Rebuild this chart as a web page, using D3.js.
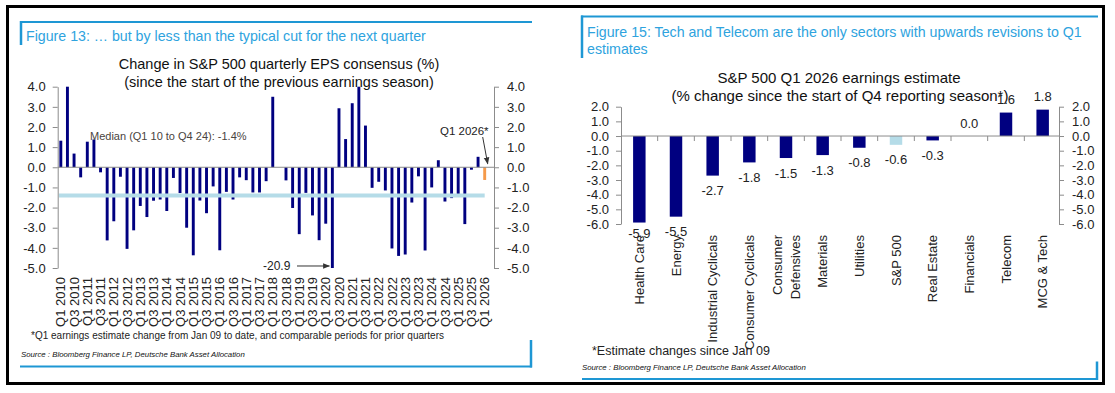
<!DOCTYPE html>
<html>
<head>
<meta charset="utf-8">
<script src="https://cdn.jsdelivr.net/npm/d3@7"></script>
<style>
  body { margin: 0; background: #fff; }
  svg { display: block; font-family: "Liberation Sans", Arial, sans-serif; }
</style>
</head>
<body>
<svg id="chart" width="1115" height="393"></svg>
<script>
/* ---------- data : Figure 13 ---------- */
const quarters = [
  "Q1 2010","Q2 2010","Q3 2010","Q4 2010","Q1 2011","Q2 2011","Q3 2011","Q4 2011",
  "Q1 2012","Q2 2012","Q3 2012","Q4 2012","Q1 2013","Q2 2013","Q3 2013","Q4 2013",
  "Q1 2014","Q2 2014","Q3 2014","Q4 2014","Q1 2015","Q2 2015","Q3 2015","Q4 2015",
  "Q1 2016","Q2 2016","Q3 2016","Q4 2016","Q1 2017","Q2 2017","Q3 2017","Q4 2017",
  "Q1 2018","Q2 2018","Q3 2018","Q4 2018","Q1 2019","Q2 2019","Q3 2019","Q4 2019",
  "Q1 2020","Q2 2020","Q3 2020","Q4 2020","Q1 2021","Q2 2021","Q3 2021","Q4 2021",
  "Q1 2022","Q2 2022","Q3 2022","Q4 2022","Q1 2023","Q2 2023","Q3 2023","Q4 2023",
  "Q1 2024","Q2 2024","Q3 2024","Q4 2024","Q1 2025","Q2 2025","Q3 2025","Q4 2025",
  "Q1 2026"
];
const epsChange = [
  1.32, 4.0, 0.68, -0.5, 1.27, 1.38, -0.25, -3.63, -2.68, -0.47,
  -4.05, -3.13, -1.92, -2.47, -1.66, -1.6, -2.17, -0.53, -1.28, -3.0,
  -4.37, -1.65, -2.28, -0.95, -4.12, -1.22, -1.6, -0.5, -0.64, -1.25,
  -1.25, -0.69, 3.5, 0.0, -0.65, -2.02, -3.32, -1.27, -2.39, -3.62,
  -2.8, -20.9, 2.93, 1.4, 3.18, 4.0, 2.07, -1.02, -0.72, -1.15,
  -4.03, -4.4, -4.33, -1.75, -0.45, -4.13, -1.0, 0.35, -1.7, -1.53,
  -1.33, -2.82, -0.12, 0.52, -0.63
];
const epsTicks = [4, 3, 2, 1, 0, -1, -2, -3, -4, -5];
const medianValue = -1.4;
const outlierIndex = 41;   // Q2 2020, -20.9 (clipped)

/* ---------- data : Figure 15 ---------- */
const sectors = [
  "Health Care", "Energy", "Industrial Cyclicals", "Consumer Cyclicals",
  "Consumer\nDefensives", "Materials", "Utilities", "S&P 500", "Real Estate",
  "Financials", "Telecom", "MCG & Tech"
];
const sectorChange = [-5.9, -5.5, -2.7, -1.8, -1.5, -1.3, -0.8, -0.6, -0.3, 0.0, 1.6, 1.8];
const sectorTicks = [2, 1, 0, -1, -2, -3, -4, -5, -6];

/* ---------- styles ---------- */
const NAVY = "#000080";
const ORANGE = "#f59a4a";
const LIGHT = "#b5dce8";
const BLUE = "#1e97d4";
const GREY = "#8c8c8c";
const INK = "#222";
const fmt = d => d.toFixed(1);

const svg = d3.select("#chart");
svg.append("rect").attr("width", 1115).attr("height", 393).attr("fill", "#fff");

svg.append("defs").append("marker")
  .attr("id", "arrow").attr("viewBox", "0 0 10 10")
  .attr("refX", 9).attr("refY", 5)
  .attr("markerWidth", 7).attr("markerHeight", 7)
  .attr("orient", "auto-start-reverse")
  .append("path").attr("d", "M0,1L10,5L0,9z").attr("fill", "#333");

function styleAxis(g, size) {
  g.attr("font-family", null).attr("font-size", size);
  g.select(".domain").attr("stroke", GREY);
  g.selectAll(".tick line").attr("stroke", GREY);
  g.selectAll(".tick text").attr("fill", INK);
}

// outer black frame
svg.append("rect")
  .attr("x", 7.5).attr("y", 6.5).attr("width", 1096).attr("height", 377)
  .attr("fill", "none").attr("stroke", "#000").attr("stroke-width", 3);

/* ==========================================================
   Figure 13 - quarterly EPS consensus change
============================================================ */
{
  const AX_L = 57.7, AX_R = 494;
  const x = d3.scaleBand().domain(quarters).range([57.5, 488])
    .paddingInner(0.56).paddingOuter(0.28);
  const y = d3.scaleLinear().domain([-5, 4]).range([268, 86.7]).clamp(true);
  const g = svg.append("g");

  // figure frame (blue)
  g.append("line").attr("x1", 20).attr("x2", 532).attr("y1", 22).attr("y2", 22)
    .attr("stroke", BLUE).attr("stroke-width", 2);
  g.append("line").attr("x1", 21).attr("x2", 21).attr("y1", 21).attr("y2", 45)
    .attr("stroke", BLUE).attr("stroke-width", 2.5);
  g.append("line").attr("x1", 20).attr("x2", 532).attr("y1", 366.5).attr("y2", 366.5)
    .attr("stroke", BLUE).attr("stroke-width", 2);
  g.append("line").attr("x1", 531).attr("x2", 531).attr("y1", 340).attr("y2", 367.5)
    .attr("stroke", BLUE).attr("stroke-width", 2.5);

  g.append("text").attr("x", 26).attr("y", 41).attr("font-size", 14.2).attr("fill", "#2ea3de")
    .text("Figure 13: \u2026 but by less than the typical cut for the next quarter");

  g.append("text").attr("x", 279).attr("y", 68.5).attr("text-anchor", "middle")
    .attr("font-size", 14.5).attr("fill", "#111")
    .text("Change in S&P 500 quarterly EPS consensus (%)");
  g.append("text").attr("x", 279).attr("y", 86.5).attr("text-anchor", "middle")
    .attr("font-size", 14.5).attr("fill", "#111")
    .text("(since the start of the previous earnings season)");

  // bars
  g.append("g").selectAll("rect").data(epsChange).join("rect")
    .attr("x", (d, i) => x(quarters[i]))
    .attr("width", x.bandwidth())
    .attr("y", d => Math.min(y(d), y(0)))
    .attr("height", d => Math.abs(y(d) - y(0)))
    .attr("fill", (d, i) => i === quarters.length - 1 ? ORANGE : NAVY);

  // zero line
  g.append("line").attr("x1", AX_L).attr("x2", AX_R).attr("y1", y(0)).attr("y2", y(0))
    .attr("stroke", GREY);

  // median line (drawn over bars)
  const last = quarters[quarters.length - 1];
  g.append("line")
    .attr("x1", x(quarters[0]) - 0.5).attr("x2", x(last) + x.bandwidth() / 2)
    .attr("y1", y(medianValue)).attr("y2", y(medianValue))
    .attr("stroke", LIGHT).attr("stroke-width", 4);

  // axes
  g.append("g").attr("transform", `translate(${AX_L},0)`)
    .call(d3.axisLeft(y).tickValues(epsTicks).tickFormat(fmt).tickSize(5).tickSizeOuter(0).tickPadding(7))
    .call(a => styleAxis(a, 13));
  g.append("g").attr("transform", `translate(${AX_R},0)`)
    .call(d3.axisRight(y).tickValues(epsTicks).tickFormat(fmt).tickSize(5).tickSizeOuter(0).tickPadding(8))
    .call(a => styleAxis(a, 13));

  // x labels (every other quarter)
  g.append("g").selectAll("text")
    .data(quarters.filter(q => q.startsWith("Q1") || q.startsWith("Q3")))
    .join("text")
    .attr("transform", q => `translate(${x(q) + x.bandwidth() / 2},277) rotate(-90)`)
    .attr("text-anchor", "end").attr("dy", "0.35em")
    .attr("font-size", 13).attr("fill", INK)
    .text(q => q);

  // annotations
  g.append("text").attr("x", 90).attr("y", 139.5).attr("font-size", 11).attr("fill", "#4a4440")
    .text("Median (Q1 10 to Q4 24): -1.4%");

  const tipX = x(last) + x.bandwidth() / 2 + 3;
  g.append("text").attr("x", 440).attr("y", 135).attr("font-size", 11.5).attr("fill", INK)
    .text("Q1 2026*");
  g.append("line").attr("x1", tipX - 5).attr("y1", 137).attr("x2", tipX).attr("y2", y(0) - 3.5)
    .attr("stroke", "#333").attr("stroke-width", 1).attr("marker-end", "url(#arrow)");

  const outQ = quarters[outlierIndex];
  g.append("text").attr("x", 263).attr("y", 270).attr("font-size", 12).attr("fill", INK)
    .text(epsChange[outlierIndex].toFixed(1));
  g.append("line").attr("x1", 297).attr("x2", x(outQ) - 1.5)
    .attr("y1", y(-4.9)).attr("y2", y(-4.9))
    .attr("stroke", "#333").attr("stroke-width", 1).attr("marker-end", "url(#arrow)");

  g.append("text").attr("x", 31).attr("y", 339.3).attr("font-size", 10).attr("fill", INK)
    .text("*Q1 earnings estimate change from Jan 09 to date, and comparable periods for prior quarters");
  g.append("text").attr("x", 21).attr("y", 357).attr("font-size", 7.8)
    .attr("font-style", "italic").attr("fill", "#111")
    .text("Source : Bloomberg Finance LP, Deutsche Bank Asset Allocation");
}

/* ==========================================================
   Figure 15 - sector Q1 2026 estimate change
============================================================ */
{
  const AX_L = 621, AX_R = 1059;
  const x = d3.scaleBand().domain(sectors).range([621, 1061])
    .paddingInner(0.66).paddingOuter(0.33);
  const y = d3.scaleLinear().domain([-6, 2]).range([224, 106.7]).clamp(true);
  const g = svg.append("g");

  g.append("line").attr("x1", 581).attr("x2", 1098).attr("y1", 16.5).attr("y2", 16.5)
    .attr("stroke", BLUE).attr("stroke-width", 2);
  g.append("line").attr("x1", 582).attr("x2", 582).attr("y1", 15.5).attr("y2", 58)
    .attr("stroke", BLUE).attr("stroke-width", 2.5);
  g.append("line").attr("x1", 582).attr("x2", 1098).attr("y1", 379).attr("y2", 379)
    .attr("stroke", BLUE).attr("stroke-width", 2);
  g.append("line").attr("x1", 1097).attr("x2", 1097).attr("y1", 361.5).attr("y2", 380)
    .attr("stroke", BLUE).attr("stroke-width", 2.5);

  g.append("text").attr("x", 587).attr("y", 36.7).attr("font-size", 14.2).attr("fill", "#2ea3de")
    .text("Figure 15: Tech and Telecom are the only sectors with upwards revisions to Q1");
  g.append("text").attr("x", 587).attr("y", 54.3).attr("font-size", 14.2).attr("fill", "#2ea3de")
    .text("estimates");

  g.append("text").attr("x", 839).attr("y", 82.5).attr("text-anchor", "middle")
    .attr("font-size", 15).attr("fill", "#111")
    .text("S&P 500 Q1 2026 earnings estimate");
  g.append("text").attr("x", 840).attr("y", 101.2).attr("text-anchor", "middle")
    .attr("font-size", 15).attr("fill", "#111")
    .text("(% change since the start of Q4 reporting season*)");

  g.append("g").selectAll("rect").data(sectorChange).join("rect")
    .attr("x", (d, i) => x(sectors[i]))
    .attr("width", x.bandwidth())
    .attr("y", d => Math.min(y(d), y(0)))
    .attr("height", d => Math.abs(y(d) - y(0)))
    .attr("fill", (d, i) => sectors[i] === "S&P 500" ? LIGHT : NAVY);

  // zero line + category separators
  g.append("line").attr("x1", AX_L).attr("x2", AX_R).attr("y1", y(0)).attr("y2", y(0))
    .attr("stroke", GREY);
  g.append("g").selectAll("line").data(sectors.slice(1)).join("line")
    .attr("x1", s => x(s) - x.step() * x.paddingInner() / 2)
    .attr("x2", s => x(s) - x.step() * x.paddingInner() / 2)
    .attr("y1", y(0)).attr("y2", y(0) + 5)
    .attr("stroke", GREY);

  g.append("g").attr("transform", `translate(${AX_L},0)`)
    .call(d3.axisLeft(y).tickValues(sectorTicks).tickFormat(fmt).tickSize(5).tickSizeOuter(0).tickPadding(7))
    .call(a => styleAxis(a, 13));
  g.append("g").attr("transform", `translate(${AX_R},0)`)
    .call(d3.axisRight(y).tickValues(sectorTicks).tickFormat(fmt).tickSize(5).tickSizeOuter(0).tickPadding(8))
    .call(a => styleAxis(a, 13));

  // value labels
  g.append("g").selectAll("text").data(sectorChange).join("text")
    .attr("x", (d, i) => x(sectors[i]) + x.bandwidth() / 2)
    .attr("y", d => d < 0 ? Math.min(y(d) + 15, y(-6) + 9) : y(d) - 13)
    .attr("dy", "0.35em").attr("text-anchor", "middle")
    .attr("font-size", 13).attr("fill", INK)
    .text(d => d.toFixed(1));

  // rotated category labels
  sectors.forEach(s => {
    const lines = s.split("\n");
    lines.forEach((line, j) => {
      const cx = x(s) + x.bandwidth() / 2 + (j - (lines.length - 1) / 2) * 18;
      g.append("text")
        .attr("transform", `translate(${cx},235) rotate(-90)`)
        .attr("text-anchor", "end").attr("dy", "0.35em")
        .attr("font-size", 13).attr("fill", INK)
        .text(line);
    });
  });

  g.append("text").attr("x", 592).attr("y", 354.5).attr("font-size", 12.5).attr("fill", INK)
    .text("*Estimate changes since Jan 09");
  g.append("text").attr("x", 582).attr("y", 370).attr("font-size", 7.8)
    .attr("font-style", "italic").attr("fill", "#111")
    .text("Source : Bloomberg Finance LP, Deutsche Bank Asset Allocation");
}
</script>
</body>
</html>
